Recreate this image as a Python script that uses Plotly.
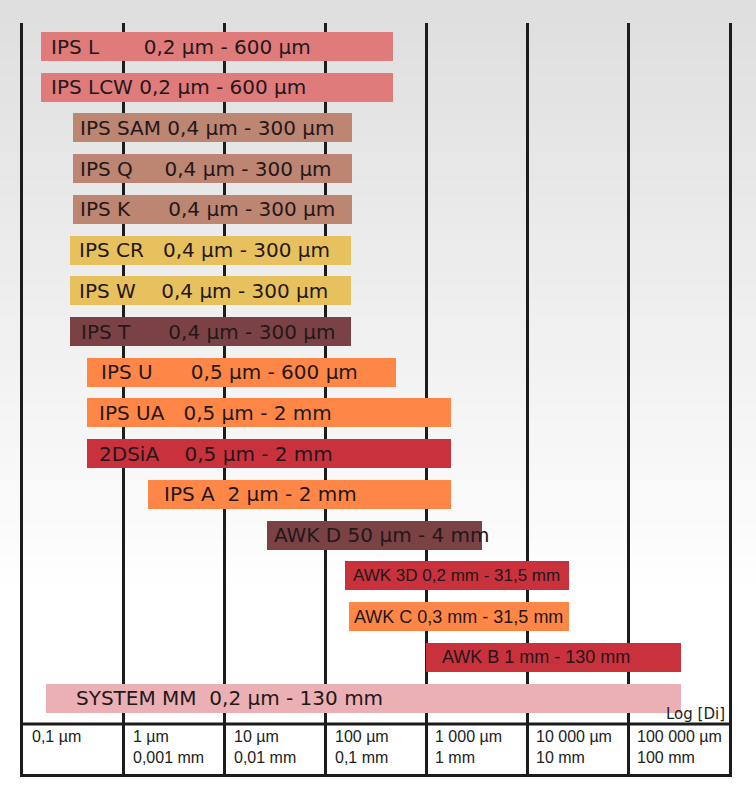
import math
import plotly.graph_objects as go

# ---------------- data ----------------
names = ["IPS L", "IPS LCW", "IPS SAM", "IPS Q", "IPS K", "IPS CR", "IPS W", "IPS T",
         "IPS U", "IPS UA", "2DSiA", "IPS A", "AWK D", "AWK 3D", "AWK C", "AWK B", "SYSTEM MM"]
range_text = ["0,2 µm - 600 µm", "0,2 µm - 600 µm", "0,4 µm - 300 µm", "0,4 µm - 300 µm",
              "0,4 µm - 300 µm", "0,4 µm - 300 µm", "0,4 µm - 300 µm", "0,4 µm - 300 µm",
              "0,5 µm - 600 µm", "0,5 µm - 2 mm", "0,5 µm - 2 mm", "2 µm - 2 mm",
              "50 µm - 4 mm", "0,2 mm - 31,5 mm", "0,3 mm - 31,5 mm", "1 mm - 130 mm",
              "0,2 µm - 130 mm"]
# bar extents in µm as drawn in the picture
bar_start = [0.15, 0.15, 0.31, 0.31, 0.31, 0.29, 0.29, 0.29, 0.43, 0.43, 0.43, 1.75,
             26, 155, 170, 980, 0.17]
bar_end = [465, 465, 182, 182, 182, 177, 177, 177, 500, 1750, 1750, 1750,
           3570, 25800, 25800, 332000, 332000]

tick_vals = [0.1, 1, 10, 100, 1000, 10000, 100000]
tick_um = ["0,1 µm", "1 µm", "10 µm", "100 µm", "1 000 µm", "10 000 µm", "100 000 µm"]
tick_mm = ["", "0,001 mm", "0,01 mm", "0,1 mm", "1 mm", "10 mm", "100 mm"]
axis_label = "Log [Di]"

# ---------------- styles ----------------
C_PINK = "#e07b7c"
C_TAN = "#bc8673"
C_MUST = "#e8c15f"
C_DBR = "#7a4244"
C_OR = "#fe8748"
C_RED = "#c9323d"
C_LP = "#ebb0b3"
colors = [C_PINK, C_PINK, C_TAN, C_TAN, C_TAN, C_MUST, C_MUST, C_DBR,
          C_OR, C_OR, C_RED, C_OR, C_DBR, C_RED, C_OR, C_RED, C_LP]
gaps = [7, 1, 1, 5, 6, 3, 4, 6, 6, 3, 4, 2, 1, 1, 1, 1, 2]
label_pad = [10, 10, 7, 7, 7, 9, 9, 11, 14, 12, 12, 16, 7, 8, 5, 16, 30]
LIB = "Liberation Sans, Arial"
label_font = ["DejaVu Sans"] * 13 + [LIB, LIB, LIB] + ["DejaVu Sans"]
label_size = [20] * 13 + [17, 18, 18] + [20]
TXT = "#24171a"
LINE = "#1c1c1c"

W, H = 756, 800
ML, MR, MT, MB = 23, 27, 23, 26
plot_h = H - MT - MB
row0, row_step = 46.5, 40.72
y_top = -(row0 - MT) / row_step
y_bot = (H - MB - row0) / row_step
table_top_paper = (H - MB - 724) / plot_h

fig = go.Figure()
fig.add_trace(go.Bar(
    y=names,
    x=[e - s for s, e in zip(bar_start, bar_end)],
    base=bar_start,
    orientation="h",
    marker=dict(color=colors, line=dict(width=0)),
    width=0.712,
    hoverinfo="skip",
))

annotations = []
for i, n in enumerate(names):
    txt = n + "\u00a0" * gaps[i] + range_text[i]
    annotations.append(dict(
        x=math.log10(bar_start[i]), y=n, xref="x", yref="y",
        text=txt, showarrow=False, xanchor="left", yanchor="middle",
        xshift=label_pad[i], yshift=0, borderpad=0, borderwidth=0,
        font=dict(family=label_font[i], size=label_size[i], color=TXT),
    ))

for v, a, b in zip(tick_vals, tick_um, tick_mm):
    t = a + ("<br>" + b if b else "")
    annotations.append(dict(
        x=math.log10(v), y=table_top_paper, xref="x", yref="paper",
        text=t, showarrow=False, xanchor="left", yanchor="top", align="left",
        xshift=8, yshift=-3, borderpad=0,
        font=dict(family="Liberation Sans, Arial", size=16, color="#222222"),
    ))

annotations.append(dict(
    x=1, y=table_top_paper, xref="paper", yref="paper", text=axis_label,
    showarrow=False, xanchor="right", yanchor="bottom", xshift=-3, yshift=0,
    borderpad=0, font=dict(family="DejaVu Sans", size=15, color="#222222"),
))

shapes = []
# background gradient bands (light grey at top fading to white)
nb = 40
band_px = 15
for k in range(nb):
    p0 = k * band_px
    p1 = p0 + band_px + 1
    g = int(round(222 + 33 * min(1.0, (p0 + band_px / 2) / 600)))
    shapes.append(dict(
        type="rect", xref="paper", yref="paper", layer="below",
        x0=-ML / (W - ML - MR) - 0.01, x1=1 + MR / (W - ML - MR) + 0.01,
        y0=(H - MB - p1) / plot_h, y1=(H - MB - p0) / plot_h,
        fillcolor=f"rgb({g},{g},{g})", line=dict(width=0),
    ))
# table top line
shapes.append(dict(type="line", xref="paper", yref="paper", x0=0, x1=1,
                   y0=table_top_paper, y1=table_top_paper,
                   line=dict(color=LINE, width=3), layer="above"))

fig.update_layout(
    width=W, height=H,
    margin=dict(l=ML, r=MR, t=MT, b=MB, pad=0),
    paper_bgcolor="white", plot_bgcolor="rgba(0,0,0,0)",
    showlegend=False,
    bargap=0,
    xaxis=dict(type="log", range=[-1, 6], tickvals=tick_vals, showticklabels=False,
               showgrid=True, gridcolor=LINE, gridwidth=3, ticks="",
               showline=True, linecolor=LINE, linewidth=3, mirror=False,
               zeroline=False, fixedrange=True),
    yaxis=dict(type="category", range=[y_bot, y_top], showticklabels=False,
               showgrid=False, ticks="", showline=True, linecolor=LINE,
               linewidth=3, mirror=True, zeroline=False, fixedrange=True),
    annotations=annotations,
    shapes=shapes,
)

fig.write_html("out.html", config={"displayModeBar": False},
               post_script="document.body.style.margin='0';")
